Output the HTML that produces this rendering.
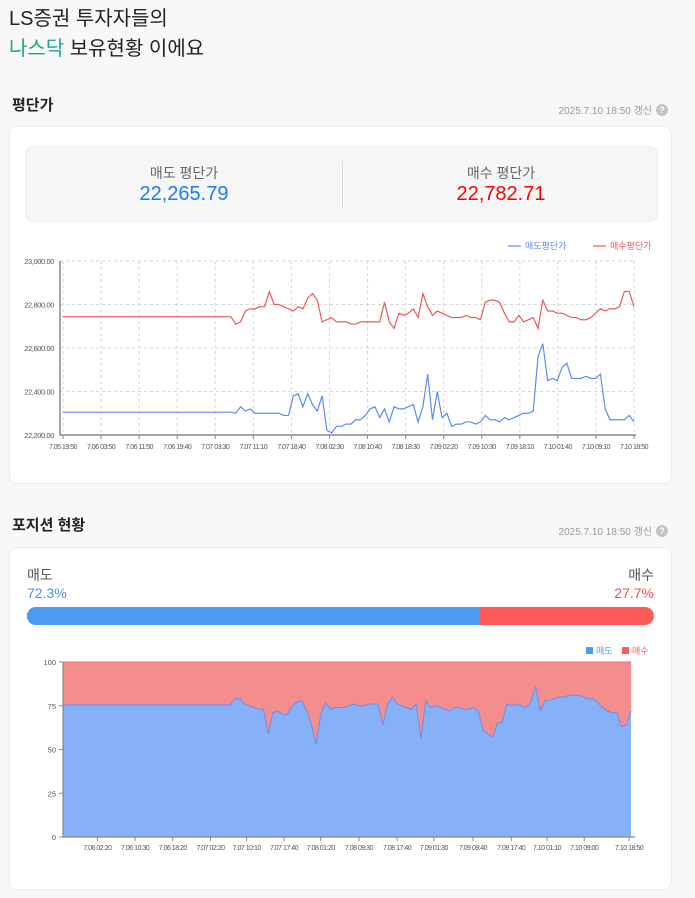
<!DOCTYPE html>
<html><head><meta charset="utf-8">
<style>
*{margin:0;padding:0;box-sizing:border-box}
body{width:695px;height:898px;background:#f8f8f8;font-family:"Liberation Sans","Noto Sans CJK KR",sans-serif;position:relative;overflow:hidden;color:#222}
.abs{position:absolute}
.card{position:absolute;left:9px;width:663px;background:#fff;border:1px solid #ececec;border-radius:8px}
.upd{position:absolute;font-size:10px;color:#999;right:43px}
.q{position:absolute;width:12px;height:12px;border-radius:50%;background:#c4c4c4;color:#fff;font-size:9px;font-weight:bold;text-align:center;line-height:12px;left:656px}
svg text{font-family:"Liberation Sans",sans-serif}
</style></head><body>
<div class="abs" style="left:9px;top:4px;font-size:20px;line-height:30px;color:#222">LS증권 투자자들의<br><span style="color:#17a88c">나스닥</span> 보유현황 이에요</div>

<div class="abs" style="left:12px;top:94px;font-size:15px;font-weight:bold">평단가</div>
<div class="upd" style="top:102px">2025.7.10 18:50 갱신</div>
<div class="q" style="top:104px">?</div>

<div class="card" style="top:126px;height:358px">
  <div class="abs" style="left:15px;top:19px;width:633px;height:76px;background:#f6f6f6;border:1px solid #efefef;border-radius:8px">
    <div class="abs" style="left:316px;top:14px;width:1px;height:47px;background:#ddd"></div>
    <div class="abs" style="left:0;width:316px;top:16px;text-align:center;font-size:14px;color:#666">매도 평단가</div>
    <div class="abs" style="left:0;width:316px;top:36px;text-align:center;font-size:20px;color:#1a7cf5">22,265.79</div>
    <div class="abs" style="left:317px;width:316px;top:16px;text-align:center;font-size:14px;color:#666">매수 평단가</div>
    <div class="abs" style="left:317px;width:316px;top:36px;text-align:center;font-size:20px;color:#f00">22,782.71</div>
  </div>
</div>

<div class="abs" style="left:12px;top:514px;font-size:15px;font-weight:bold">포지션 현황</div>
<div class="upd" style="top:523px">2025.7.10 18:50 갱신</div>
<div class="q" style="top:525px">?</div>

<div class="card" style="top:547px;height:343px">
  <div class="abs" style="left:17px;top:17px;font-size:14px;color:#555">매도</div>
  <div class="abs" style="left:17px;top:37px;font-size:14px;color:#4a90e8">72.3%</div>
  <div class="abs" style="right:17px;top:17px;font-size:14px;color:#555">매수</div>
  <div class="abs" style="right:17px;top:37px;font-size:14px;color:#f05050">27.7%</div>
  <div class="abs" style="left:17px;top:59px;width:627px;height:18px;border-radius:9px;overflow:hidden;background:#ff5a5a">
    <div style="width:72.3%;height:100%;background:#4a9cf2"></div>
  </div>
</div>

<svg id="c1" class="abs" style="left:0;top:0" width="695" height="898"></svg>

<script>
const ticks1 = ["7.05 19:50","7.06 03:50","7.06 11:50","7.06 19:40","7.07 03:30","7.07 11:10","7.07 18:40","7.08 02:30","7.08 10:40","7.08 18:30","7.09 02:20","7.09 10:30","7.09 18:10","7.10 01:40","7.10 09:10","7.10 18:50"];
const yTicks1 = [22200,22400,22600,22800,23000];
const sellAvg = [22305,22305,22305,22305,22305,22305,22305,22305,22305,22305,22305,22305,22305,22305,22305,22305,22305,22305,22305,22305,22305,22305,22305,22305,22305,22305,22305,22305,22305,22305,22305,22305,22305,22305,22305,22305,
22300,22330,22310,22320,22300,22300,22300,22300,22300,22300,22290,22290,22380,22390,22330,22390,22340,22310,22380,22220,22210,22240,22240,22250,22250,22270,22270,22290,22320,22330,22280,22320,22260,22330,22320,22320,22330,22340,22260,22330,22480,22270,22400,22280,22300,22240,22250,22250,22260,22260,22250,22260,22290,22270,22270,22260,22280,22270,22280,22290,22300,22300,22310,22560,22620,22450,22460,22450,22510,22530,22460,22460,22460,22470,22460,22460,22480,22320,22270,22270,22270,22270,22290,22260];
const buyAvg = [22744,22744,22744,22744,22744,22744,22744,22744,22744,22744,22744,22744,22744,22744,22744,22744,22744,22744,22744,22744,22744,22744,22744,22744,22744,22744,22744,22744,22744,22744,22744,22744,22744,22744,22744,22744,
22710,22720,22770,22780,22780,22790,22790,22860,22800,22800,22790,22780,22770,22790,22780,22830,22850,22820,22720,22730,22740,22720,22720,22720,22710,22710,22720,22720,22720,22720,22720,22810,22720,22690,22760,22750,22760,22780,22740,22850,22790,22750,22770,22760,22750,22740,22740,22740,22750,22740,22740,22730,22810,22820,22820,22810,22760,22720,22720,22750,22720,22730,22740,22690,22820,22770,22770,22760,22760,22750,22740,22740,22730,22730,22740,22760,22780,22770,22780,22780,22790,22860,22860,22790];
const tickIdx1 = [0,7.93,15.87,23.8,31.73,39.67,47.6,55.53,63.47,71.4,79.33,87.27,95.2,103.13,111.07,119];

const ticks2 = ["7.06 02:20","7.06 10:30","7.06 18:20","7.07 02:20","7.07 10:10","7.07 17:40","7.08 01:20","7.08 09:30","7.08 17:40","7.09 01:30","7.09 09:40","7.09 17:40","7.10 01:10","7.10 09:00","7.10 18:50"];
const yTicks2 = [0,25,50,75,100];
const sellPct = [75.5,75.5,75.5,75.5,75.5,75.5,75.5,75.5,75.5,75.5,75.5,75.5,75.5,75.5,75.5,75.5,75.5,75.5,75.5,75.5,75.5,75.5,75.5,75.5,75.5,75.5,75.5,75.5,75.5,75.5,75.5,75.5,75.5,75.5,75.5,75.5,
79,79,76,75,74,73,73,59,71,72,70,70,75,77,78,72,65,53,70,77,73,74,74,74,75,76,75,75,76,76,76,64,76,80,76,75,74,73,76,56,78,74,75,74,73,72,74,74,73,73,74,72,61,59,57,65,66,76,75,76,75,74,77,86,72,78,78,79,80,80,81,81,81,80,79,79,77,74,72,71,71,63,64,72];
const tickIdx2 = [7.2,15.1,23,30.9,38.5,46.3,54,62,70,77.7,85.9,93.9,101.4,109.2,118.6];

const NS='http://www.w3.org/2000/svg';
const svg=document.getElementById('c1');
function mk(tag,attrs,parent){const e=document.createElementNS(NS,tag);for(const k in attrs)e.setAttribute(k,attrs[k]);(parent||svg).appendChild(e);return e;}

// ---- chart 1 ----
const X0=63,X1=634,Y0=435,Y1=261;
const x1=i=>X0+i*(X1-X0)/(sellAvg.length-1);
const y1=v=>Y0-(v-22200)/(23000-22200)*(Y0-Y1);
const g1=mk('g',{});


yTicks1.forEach(v=>{
  const l=mk('line',{x1:60,x2:X1,y1:y1(v),y2:y1(v),stroke:'#d6d6d6','stroke-dasharray':'3,3'},g1);
  
  
  const t=mk('text',{x:54,y:y1(v)+3,'text-anchor':'end','font-size':'7.5',fill:'#555','letter-spacing':'-0.4'},g1);
  
  
  t.textContent=v.toLocaleString('en-US')+'.00';
});
tickIdx1.forEach((idx,k)=>{
  const xx=x1(idx);
  const l=mk('line',{x1:xx,x2:xx,y1:Y1,y2:Y0,stroke:'#d6d6d6','stroke-dasharray':'3,3'},g1);
  
  
  const tk=mk('line',{x1:xx,x2:xx,y1:Y0,y2:Y0+4,stroke:'#888'},g1);
  
  
  const t=mk('text',{x:xx,y:449,'text-anchor':'middle','font-size':'7',fill:'#555','letter-spacing':'-0.5'},g1);
  
  
  t.textContent=ticks1[k];
});
const ax=mk('path',{d:`M60 ${Y1} V${Y0} H${X1+2}`,stroke:'#888',fill:'none','stroke-width':1.5},g1);


const sl=mk('polyline',{points:sellAvg.map((v,i)=>x1(i)+','+y1(v)).join(' '),fill:'none',stroke:'#5b8def','stroke-width':1.2},g1);


const bl=mk('polyline',{points:buyAvg.map((v,i)=>x1(i)+','+y1(v)).join(' '),fill:'none',stroke:'#e85a5a','stroke-width':1.2},g1);


const lg1=mk('g',{},g1);


mk('line',{x1:508,x2:521,y1:246,y2:246,stroke:'#5b8def','stroke-width':1.2},lg1);
const lt1=mk('text',{x:525,y:249,'font-size':'9',fill:'#5b8def'},lg1);


lt1.textContent='매도평단가';
mk('line',{x1:593,x2:606,y1:246,y2:246,stroke:'#e85a5a','stroke-width':1.2},lg1);
const lt2=mk('text',{x:610,y:249,'font-size':'9',fill:'#e85a5a'},lg1);


lt2.textContent='매수평단가';

// ---- chart 2 ----
const P0=63,P1=631,Q0=837,Q1=662;
const x2=i=>P0+i*(P1-P0)/(sellPct.length-1);
const y2=v=>Q0-v/100*(Q0-Q1);
const g2=mk('g',{});


const red=mk('rect',{x:P0,y:Q1,width:P1-P0,height:Q0-Q1,fill:'#f48d8d'},g2);


mk('line',{x1:P0,x2:P1,y1:Q1,y2:Q1,stroke:'#f06a6a','stroke-width':1},g2);
const pts=sellPct.map((v,i)=>x2(i)+','+y2(v)).join(' L');
const blue=mk('path',{d:`M${P0},${Q0} L${pts} L${P1},${Q0} Z`,fill:'#86b0f7',stroke:'none'},g2);


const bline=mk('polyline',{points:sellPct.map((v,i)=>x2(i)+','+y2(v)).join(' '),fill:'none',stroke:'#6a8fe6','stroke-width':1},g2);


yTicks2.forEach(v=>{
  const t=mk('text',{x:56,y:y2(v)+3,'text-anchor':'end','font-size':'7.5',fill:'#555'},g2);
  
  
  t.textContent=v;
  mk('line',{x1:59,x2:63,y1:y2(v),y2:y2(v),stroke:'#888'},g2);
});
tickIdx2.forEach((idx,k)=>{
  const xx=x2(idx);
  mk('line',{x1:xx,x2:xx,y1:Q0,y2:Q0+4,stroke:'#888'},g2);
  const t=mk('text',{x:xx,y:850,'text-anchor':'middle','font-size':'7',fill:'#555','letter-spacing':'-0.5'},g2);
  
  
  t.textContent=ticks2[k];
});
const ax2=mk('path',{d:`M${P0} ${Q1} V${Q0} H${P1+4}`,stroke:'#888',fill:'none','stroke-width':1.2},g2);


const lg2=mk('g',{},g2);


mk('rect',{x:586,y:647,width:7,height:7,fill:'#4a9cf2'},lg2);
const l2a=mk('text',{x:596,y:654,'font-size':'9',fill:'#4a9cf2'},lg2);


l2a.textContent='매도';
mk('rect',{x:622,y:647,width:7,height:7,fill:'#ff5a5a'},lg2);
const l2b=mk('text',{x:632,y:654,'font-size':'9',fill:'#ff5a5a'},lg2);


l2b.textContent='매수';
</script>
</body></html>
